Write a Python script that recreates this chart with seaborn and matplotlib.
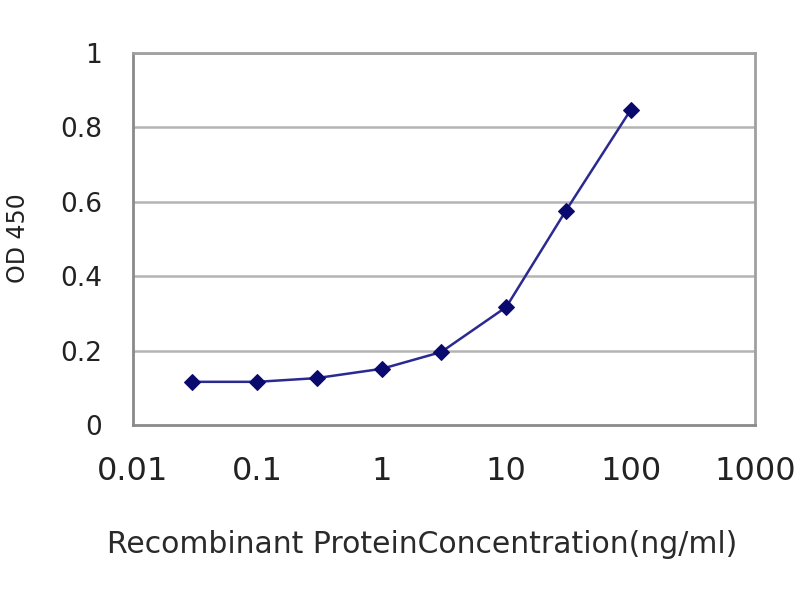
import numpy as np
import pandas as pd
import seaborn as sns
import matplotlib
matplotlib.use('Agg')
from matplotlib import pyplot as plt

# 数据：浓度 与 OD450 读数
conc = [0.03, 0.1, 0.3, 1, 3, 10, 30, 100]
od = [0.116, 0.116, 0.126, 0.151, 0.196, 0.317, 0.575, 0.847]
x_ticks = [0.01, 0.1, 1, 10, 100, 1000]
x_labels = ['0.01', '0.1', '1', '10', '100', '1000']
y_ticks = [0, 0.2, 0.4, 0.6, 0.8, 1]
y_labels = ['0', '0.2', '0.4', '0.6', '0.8', '1']

df = pd.DataFrame({'conc': conc, 'od': od})

sns.set_style('white')
plt.rcParams['font.family'] = ['DejaVu Sans']

fig = plt.figure(figsize=(8, 6), dpi=100)
ax = fig.add_axes([0.166, 0.2917, 0.778, 0.62])

sns.lineplot(data=df, x='conc', y='od', ax=ax, color='#2a2a90', linewidth=1.8,
             marker='D', markersize=8, markerfacecolor='#0a0a6e',
             markeredgecolor='#0a0a6e')

ax.set_xscale('log')
ax.set_xlim(0.01, 1000)
ax.set_ylim(0, 1)
ax.set_xticks(x_ticks)
ax.set_xticklabels(x_labels, fontsize=23, color='#222222')
ax.set_yticks(y_ticks)
ax.set_yticklabels(y_labels, fontsize=19, color='#222222')
ax.minorticks_off()

# 网格线（仅水平）
for v in y_ticks[1:]:
    ax.axhline(v, color='#b4b4b4', linewidth=1.8, zorder=0)

for s in ax.spines.values():
    s.set_color('#a0a0a0')
    s.set_linewidth(2)
ax.spines['left'].set_color('#8a8a8a')
ax.spines['bottom'].set_color('#8a8a8a')

ax.tick_params(axis='x', direction='in', length=6, width=1, color='#c8c8c8', pad=22)
ax.tick_params(axis='y', direction='out', length=4, width=1, color='#c8c8c8', pad=18)

ax.set_xlabel('')
ax.set_ylabel('')
fig.text(0.528, 0.092, 'Recombinant ProteinConcentration(ng/ml)', ha='center', va='center',
         fontsize=21.5, color='#2a2a2a')
fig.text(0.022, 0.603, 'OD 450', ha='center', va='center', rotation=90,
         fontsize=17, color='#222222')

fig.savefig('out.png', dpi=100)
